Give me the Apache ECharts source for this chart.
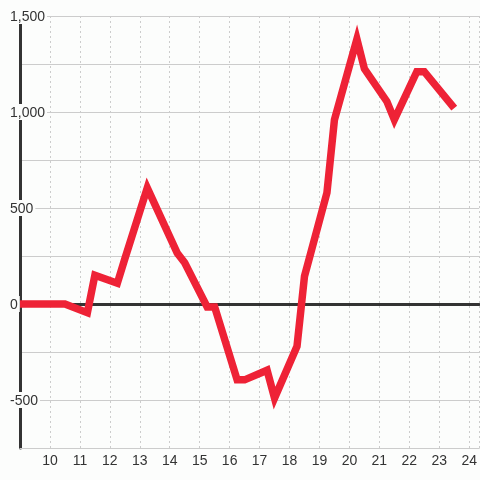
<!DOCTYPE html>
<html>
<head>
<meta charset="utf-8">
<script src="https://cdn.jsdelivr.net/npm/echarts@6/dist/echarts.min.js"></script>
<style>
html, body { margin: 0; padding: 0; background: #fcfdfc; }
#main { width: 480px; height: 480px; }
</style>
</head>
<body>
<div id="main"></div>
<script>
var hours = [9, 10.5, 11.25, 11.5, 12.25, 12.5, 13.25, 14.25, 14.5, 15.25, 15.5, 16.25, 16.5,
	17.25, 17.5, 18.25, 18.5, 19.25, 19.5, 20.25, 20.5, 21.25, 21.5, 22.25, 22.5, 23.5];
var values = [0, 0, -45, 150, 108, 235, 605, 265, 215, -15, -15, -395, -395,
	-345, -490, -220, 145, 580, 960, 1380, 1225, 1055, 960, 1210, 1210, 1020];
var yLabelValues = [-500, 0, 500, 1000, 1500];

var dom = document.getElementById("main");
var myChart = echarts.init(dom);
var font = 'Liberation Sans, Arial, sans-serif';

var points = hours.map(function (h, i) { return [h, values[i]]; });

var option = {
	backgroundColor: '#fcfdfc',
	animation: false,
	grid: { left: 20, right: 0, top: 16, bottom: 32 },
	xAxis: [{
		type: 'value',
		min: 9,
		max: 24.333,
		interval: 1,
		axisLine: { onZero: false, lineStyle: { color: '#cccccc', width: 1 } },
		axisTick: { show: false },
		axisLabel: {
			showMinLabel: false,
			showMaxLabel: false,
			margin: 6,
			color: '#333',
			fontSize: 14,
			fontFamily: font
		},
		splitLine: { show: true, lineStyle: { color: '#cccccc', type: [2, 3], width: 1 } }
	}, {
		// the zero line
		type: 'value',
		position: 'top',
		min: 9,
		max: 24.333,
		axisLine: { show: true, onZero: true, lineStyle: { color: '#333', width: 3 } },
		axisTick: { show: false },
		axisLabel: { show: false },
		splitLine: { show: false }
	}],
	yAxis: [{
		type: 'value',
		min: -750,
		max: 1500,
		interval: 250,
		axisLine: { show: true, onZero: false, lineStyle: { color: '#333', width: 3 } },
		axisTick: { show: false },
		axisLabel: { show: false },
		splitLine: { show: true, lineStyle: { color: '#cccccc', width: 1 } }
	}, {
		// labels only, on top of the lines
		type: 'value',
		position: 'left',
		z: 10,
		min: -750,
		max: 1500,
		interval: 250,
		axisLine: { show: false },
		axisTick: { show: false },
		splitLine: { show: false },
		axisLabel: {
			align: 'left',
			margin: 10,
			formatter: function (v) {
				if (yLabelValues.indexOf(v) < 0) return '';
				return '{a|' + v.toLocaleString('en-US') + '}';
			},
			rich: {
				a: {
					backgroundColor: '#fcfdfc',
					padding: [2, 2, 0, 0],
					color: '#333',
					fontSize: 14,
					fontFamily: font
				}
			}
		}
	}],
	series: [{
		type: 'line',
		xAxisIndex: 0,
		yAxisIndex: 0,
		data: points,
		showSymbol: false,
		z: 5,
		lineStyle: { color: '#ee2236', width: 7.5, join: 'miter' }
	}]
};
myChart.setOption(option, true);
</script>
</body>
</html>
